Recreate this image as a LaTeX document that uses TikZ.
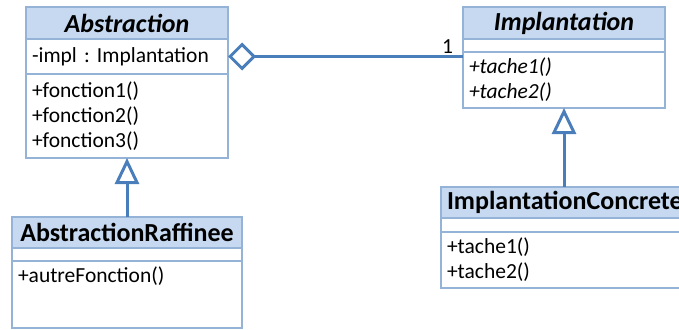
\documentclass[tikz,border=0pt]{standalone}
\usepackage{fontspec}
\setmainfont{Carlito}
\definecolor{umlhead}{RGB}{198,217,241}
\definecolor{umlborder}{RGB}{149,179,215}
\definecolor{umlblue}{RGB}{74,126,187}
\usetikzlibrary{positioning,chains,arrows.meta}

\begin{document}
\begin{tikzpicture}[x=1pt,y=-1pt,
        every node/.style={draw=umlborder,line width=1.2pt,outer sep=0pt,inner xsep=6pt,inner ysep=3pt,
          align=left,font=\fontsize{21.5}{25}\selectfont\frenchspacing},
        headnode/.style={fill=umlhead,align=center,font=\fontsize{26}{28}\selectfont\bfseries},
        partnode/.style={fill=white},
        inherit/.style={draw=umlblue,line width=3pt,-{Triangle[open,length=26pt,width=24pt]}},
        aggreg/.style={draw=umlblue,line width=3pt,{Diamond[open,length=28pt,width=28pt]}-}
        ]
        \clip (0,0) rectangle (679,329);

        % the class Abstraction
        \begin{scope}[start chain=going below,node distance=0pt,every node/.append style={text width=190pt}]
        \node[headnode,on chain,anchor=north west,minimum height=32pt] (abshead) at (26,7) {\itshape Abstraction};
        \node[partnode,on chain,minimum height=35pt] (absattr) {-impl : Implantation};
        \node[partnode,on chain,minimum height=84pt] (absops) {+fonction1()\\+fonction2()\\+fonction3()};
        \end{scope}

        % the class Implantation
        \begin{scope}[start chain=going below,node distance=0pt,every node/.append style={text width=190pt}]
        \node[headnode,on chain,anchor=north west,minimum height=32pt] (implhead) at (463,7) {\itshape Implantation};
        \node[partnode,on chain,minimum height=13pt] (implattr) {};
        \node[partnode,on chain,minimum height=56pt,font=\fontsize{21.5}{25}\selectfont\itshape] (implops) {+tache1()\\+tache2()};
        \end{scope}

        % the class AbstractionRaffinee
        \begin{scope}[start chain=going below,node distance=0pt,every node/.append style={text width=218pt}]
        \node[headnode,on chain,anchor=north west,minimum height=31pt] (rafhead) at (12,217) {AbstractionRaffinee};
        \node[partnode,on chain,minimum height=13pt] (rafattr) {};
        \node[partnode,on chain,minimum height=67pt,text height=18pt,text depth=42pt] (rafops) {+autreFonction()};
        \end{scope}

        % the class ImplantationConcrete
        \begin{scope}[start chain=going below,node distance=0pt,every node/.append style={text width=240pt}]
        \node[headnode,on chain,anchor=north west,minimum height=31pt,align=left] (conchead) at (441,187) {ImplantationConcrete};
        \node[partnode,on chain,minimum height=14pt] (concattr) {};
        \node[partnode,on chain,minimum height=56pt] (concops) {+tache1()\\+tache2()};
        \end{scope}

        % the relations
        \draw[aggreg] (absattr.east) -- (absattr.east -| implops.west)
          node[draw=none,above left=0pt and 4pt] (mult) {1};
        \draw[inherit] (rafhead.north) -- (absops.south);
        \draw[inherit] (conchead.north -| implops.south) -- (implops.south);
        \end{tikzpicture}
\end{document}
